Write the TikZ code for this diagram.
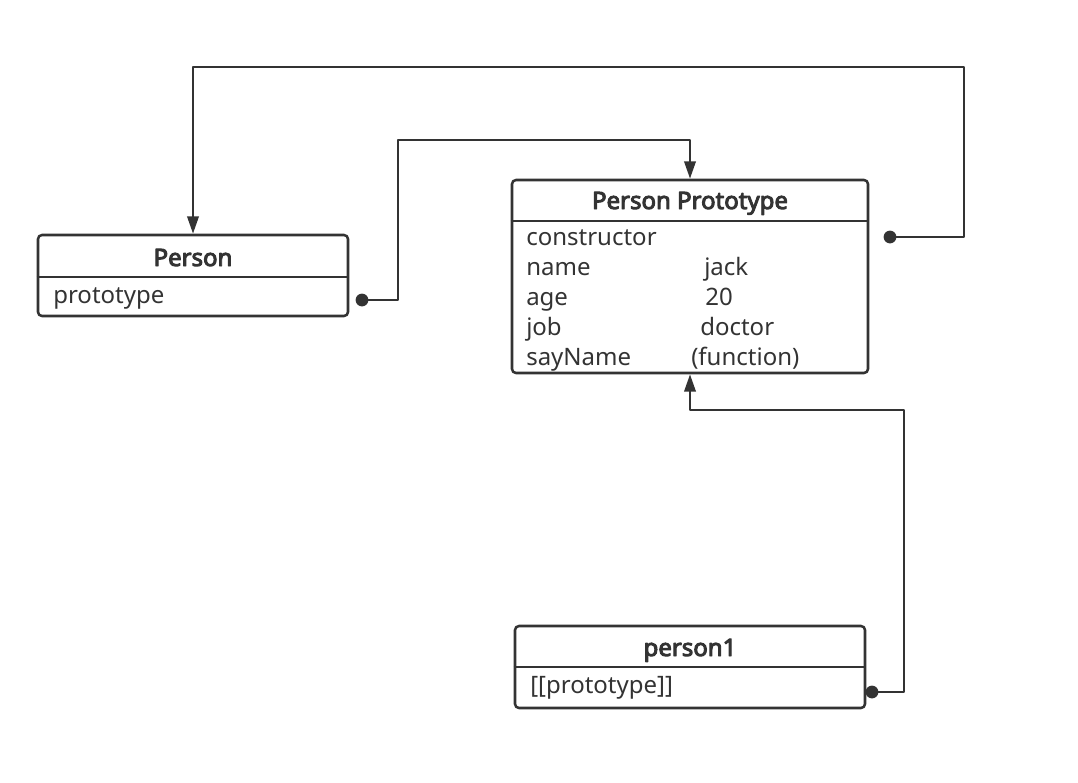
\documentclass[tikz,border=0pt]{standalone}
\usepackage{fontspec}
\setmainfont{Noto Sans}[AutoFakeBold=4]
\usetikzlibrary{arrows.meta,fit}
\definecolor{ink}{HTML}{333333}
\begin{document}
\begin{tikzpicture}[x=0.75pt,y=-0.75pt,>={Triangle[length=13pt,width=8.5pt]},line join=round,
 box/.style={draw=ink,line width=1.9pt,rounded corners=3pt,inner sep=0pt},
 ttl/.style={text=ink,anchor=base,inner sep=0pt,font=\fontsize{18}{22}\selectfont\bfseries},
 txt/.style={text=ink,anchor=base west,inner sep=0pt,font=\fontsize{18}{22}\selectfont},
 link/.style={draw=ink,line width=1.9pt,->}]
\useasboundingbox (0,0) rectangle (1078,782);
% boxes
\node[box,fit={(38,235)(348,316)}] (person) {};
\node[box,fit={(512,180)(868,373)}] (proto) {};
\node[box,fit={(515,626)(865,708)}] (person1) {};
\foreach \nd/\y in {person/277,proto/221,person1/667}
  \draw[ink,line width=1.9pt] (\nd.west|-0,\y) -- (\nd.east|-0,\y);
% titles and fields
\node[ttl] (tperson) at (person.north|-0,266) {Person};
\node[ttl] (tproto) at (proto.north|-0,209) {Person Prototype};
\node[ttl] (tperson1) at (person1.north|-0,656) {person1};
\node[txt] (fperson) at (53,303) {prototype};
\node[txt] (fperson1) at (530,693) {[[prototype]]};
\node[txt] (k0) at (526,245) {constructor};
\foreach \key/\val/\vx [count=\i] in {name/jack/704,age/20/705,job/doctor/700,sayName/(function)/691}{
  \node[txt] (k\i) at (526,245+30*\i) {\key};
  \node[txt] (v\i) at (\vx,245+30*\i) {\val};
}
% links
\fill[ink] (362,300) coordinate (d1) circle (4.8pt);
\fill[ink] (890,237) coordinate (d2) circle (4.8pt);
\fill[ink] (872,692) coordinate (d3) circle (4.8pt);
\draw[link] (d1) -| (398,140) -| (proto.north);
\draw[link] (d2) -| (964,67) -| (person.north);
\draw[link] (d3) -| (904,410) -| (proto.south);
\end{tikzpicture}
\end{document}
